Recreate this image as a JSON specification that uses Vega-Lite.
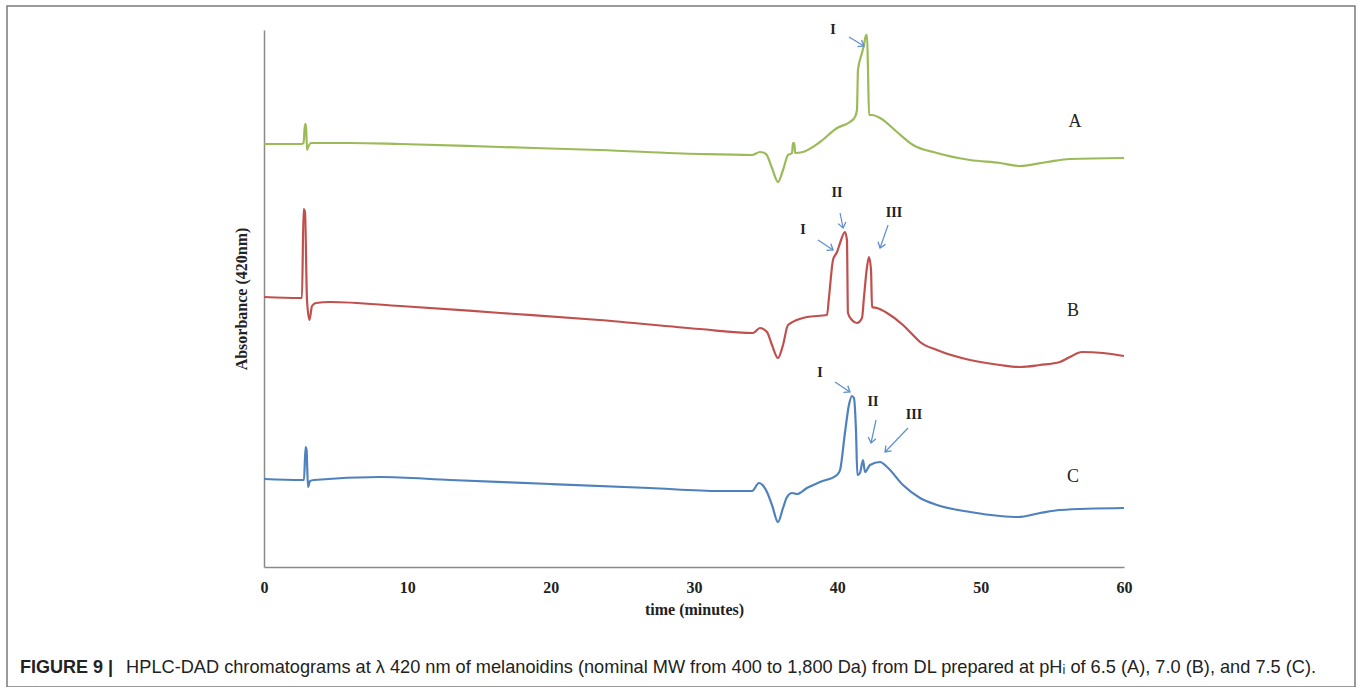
{
  "$schema": "https://vega.github.io/schema/vega-lite/v6.json",
  "width": 1348,
  "height": 681,
  "autosize": {"type": "none"},
  "padding": {"left": 7, "top": 6, "right": 3, "bottom": 0},
  "background": "white",
  "config": {
    "view": {"stroke": "#7a7a7a", "strokeWidth": 1.5},
    "axisX": {"ticks": false, "grid": false,
      "domainColor": "#8a8a8a", "domainWidth": 1.5, "labelFont": "Liberation Serif", "labelFontSize": 16, "labelFontWeight": "bold",
      "labelColor": "#222222", "labelPadding": 12, "labelFlush": false, "labelOverlap": false,
      "titleFont": "Liberation Serif", "titleFontSize": 16, "titleFontWeight": "bold", "titleColor": "#222222", "titlePadding": 6, "offset": -120},
    "axisY": {"labels": false, "ticks": false, "grid": false,
      "domainColor": "#8a8a8a", "domainWidth": 1.5,
      "titleFont": "Liberation Serif", "titleFontSize": 16, "titleFontWeight": "bold", "titleColor": "#222222", "titlePadding": 15, "offset": -257}
  },
  "title": {
    "text": "FIGURE 9 |",
    "subtitle": "\u200b\u00a0\u00a0\u00a0\u00a0\u00a0\u00a0\u00a0\u00a0\u00a0\u00a0\u00a0\u00a0\u00a0\u00a0\u00a0\u00a0\u00a0\u00a0\u00a0\u00a0\u00a0HPLC-DAD chromatograms at λ 420 nm of melanoidins (nominal MW from 400 to 1,800 Da) from DL prepared at pHᵢ of 6.5 (A), 7.0 (B), and 7.5 (C).",
    "orient": "bottom",
    "anchor": "start",
    "frame": "group",
    "offset": -28,
    "dx": 13,
    "font": "Liberation Sans",
    "fontSize": 18,
    "fontWeight": "bold",
    "color": "#222222",
    "lineHeight": 18,
    "subtitleFont": "Liberation Sans",
    "subtitleFontSize": 18.2,
    "subtitleFontWeight": "normal",
    "subtitleColor": "#222222",
    "subtitlePadding": -18
  },
  "datasets": {
    "trace": [
      {"series": "A", "time": 0, "abs": 423}, {"series": "A", "time": 2.6, "abs": 423}, {"series": "A", "time": 2.76, "abs": 424}, {"series": "A", "time": 2.86, "abs": 443}, {"series": "A", "time": 2.93, "abs": 443}, {"series": "A", "time": 3.0, "abs": 417}, {"series": "A", "time": 3.11, "abs": 421}, {"series": "A", "time": 3.28, "abs": 424}, {"series": "A", "time": 6, "abs": 424}, {"series": "A", "time": 9.5, "abs": 423}, {"series": "A", "time": 16.5, "abs": 420}, {"series": "A", "time": 23.4, "abs": 417}, {"series": "A", "time": 30.4, "abs": 413}, {"series": "A", "time": 34.05, "abs": 412}, {"series": "A", "time": 34.6, "abs": 415}, {"series": "A", "time": 35.02, "abs": 413}, {"series": "A", "time": 35.44, "abs": 399}, {"series": "A", "time": 35.86, "abs": 385}, {"series": "A", "time": 36.21, "abs": 397}, {"series": "A", "time": 36.56, "abs": 412}, {"series": "A", "time": 36.84, "abs": 414}, {"series": "A", "time": 36.9, "abs": 424}, {"series": "A", "time": 37.0, "abs": 424}, {"series": "A", "time": 37.05, "abs": 414}, {"series": "A", "time": 37.6, "abs": 415}, {"series": "A", "time": 38.79, "abs": 425}, {"series": "A", "time": 39.98, "abs": 439}, {"series": "A", "time": 40.88, "abs": 445}, {"series": "A", "time": 41.23, "abs": 450}, {"series": "A", "time": 41.37, "abs": 457}, {"series": "A", "time": 41.44, "abs": 497}, {"series": "A", "time": 41.72, "abs": 514}, {"series": "A", "time": 41.86, "abs": 522}, {"series": "A", "time": 42.0, "abs": 532}, {"series": "A", "time": 42.07, "abs": 532}, {"series": "A", "time": 42.14, "abs": 497}, {"series": "A", "time": 42.21, "abs": 452}, {"series": "A", "time": 42.42, "abs": 452}, {"series": "A", "time": 42.98, "abs": 449}, {"series": "A", "time": 44.16, "abs": 435}, {"series": "A", "time": 45.28, "abs": 422}, {"series": "A", "time": 46.95, "abs": 414}, {"series": "A", "time": 49.26, "abs": 407}, {"series": "A", "time": 51.35, "abs": 404}, {"series": "A", "time": 52.74, "abs": 401}, {"series": "A", "time": 54.63, "abs": 405}, {"series": "A", "time": 56.23, "abs": 408}, {"series": "A", "time": 60, "abs": 409},
      {"series": "B", "time": 0, "abs": 270}, {"series": "B", "time": 2.5, "abs": 269}, {"series": "B", "time": 2.65, "abs": 269}, {"series": "B", "time": 2.76, "abs": 358}, {"series": "B", "time": 2.86, "abs": 355}, {"series": "B", "time": 3.0, "abs": 267}, {"series": "B", "time": 3.17, "abs": 247}, {"series": "B", "time": 3.35, "abs": 261}, {"series": "B", "time": 3.63, "abs": 264}, {"series": "B", "time": 4.6, "abs": 265}, {"series": "B", "time": 9.5, "abs": 261}, {"series": "B", "time": 16.5, "abs": 254}, {"series": "B", "time": 23.4, "abs": 247}, {"series": "B", "time": 30.4, "abs": 238}, {"series": "B", "time": 34.12, "abs": 234}, {"series": "B", "time": 34.6, "abs": 239}, {"series": "B", "time": 35.09, "abs": 235}, {"series": "B", "time": 35.44, "abs": 222}, {"series": "B", "time": 35.86, "abs": 209}, {"series": "B", "time": 36.21, "abs": 222}, {"series": "B", "time": 36.56, "abs": 242}, {"series": "B", "time": 37.88, "abs": 250}, {"series": "B", "time": 39.28, "abs": 252}, {"series": "B", "time": 39.42, "abs": 270}, {"series": "B", "time": 39.7, "abs": 307}, {"series": "B", "time": 39.98, "abs": 315}, {"series": "B", "time": 40.19, "abs": 324}, {"series": "B", "time": 40.53, "abs": 335}, {"series": "B", "time": 40.67, "abs": 327}, {"series": "B", "time": 40.74, "abs": 254}, {"series": "B", "time": 41.02, "abs": 247}, {"series": "B", "time": 41.37, "abs": 244}, {"series": "B", "time": 41.72, "abs": 249}, {"series": "B", "time": 41.86, "abs": 270}, {"series": "B", "time": 42.07, "abs": 300}, {"series": "B", "time": 42.21, "abs": 310}, {"series": "B", "time": 42.35, "abs": 297}, {"series": "B", "time": 42.42, "abs": 260}, {"series": "B", "time": 42.77, "abs": 259}, {"series": "B", "time": 43.47, "abs": 254}, {"series": "B", "time": 44.58, "abs": 242}, {"series": "B", "time": 45.21, "abs": 233}, {"series": "B", "time": 45.77, "abs": 225}, {"series": "B", "time": 46.95, "abs": 217}, {"series": "B", "time": 49.26, "abs": 207}, {"series": "B", "time": 51.35, "abs": 202}, {"series": "B", "time": 52.74, "abs": 200}, {"series": "B", "time": 54.14, "abs": 202}, {"series": "B", "time": 55.53, "abs": 205}, {"series": "B", "time": 56.23, "abs": 210}, {"series": "B", "time": 57.07, "abs": 215}, {"series": "B", "time": 58.54, "abs": 214}, {"series": "B", "time": 60, "abs": 211},
      {"series": "C", "time": 0, "abs": 88}, {"series": "C", "time": 2.6, "abs": 87}, {"series": "C", "time": 2.79, "abs": 87}, {"series": "C", "time": 2.9, "abs": 120}, {"series": "C", "time": 2.97, "abs": 117}, {"series": "C", "time": 3.07, "abs": 80}, {"series": "C", "time": 3.21, "abs": 86}, {"series": "C", "time": 3.49, "abs": 87}, {"series": "C", "time": 8.1, "abs": 90}, {"series": "C", "time": 13, "abs": 87}, {"series": "C", "time": 20, "abs": 83}, {"series": "C", "time": 26.9, "abs": 79}, {"series": "C", "time": 31.8, "abs": 76}, {"series": "C", "time": 34.05, "abs": 76}, {"series": "C", "time": 34.53, "abs": 84}, {"series": "C", "time": 35.09, "abs": 75}, {"series": "C", "time": 35.44, "abs": 62}, {"series": "C", "time": 35.86, "abs": 45}, {"series": "C", "time": 36.21, "abs": 59}, {"series": "C", "time": 36.49, "abs": 70}, {"series": "C", "time": 36.84, "abs": 74}, {"series": "C", "time": 37.19, "abs": 73}, {"series": "C", "time": 37.88, "abs": 79}, {"series": "C", "time": 38.79, "abs": 85}, {"series": "C", "time": 39.98, "abs": 92}, {"series": "C", "time": 40.19, "abs": 97}, {"series": "C", "time": 40.53, "abs": 134}, {"series": "C", "time": 40.81, "abs": 162}, {"series": "C", "time": 41.02, "abs": 171}, {"series": "C", "time": 41.16, "abs": 169}, {"series": "C", "time": 41.3, "abs": 137}, {"series": "C", "time": 41.4, "abs": 92}, {"series": "C", "time": 41.58, "abs": 94}, {"series": "C", "time": 41.79, "abs": 107}, {"series": "C", "time": 41.93, "abs": 95}, {"series": "C", "time": 42.28, "abs": 102}, {"series": "C", "time": 42.98, "abs": 105}, {"series": "C", "time": 43.47, "abs": 100}, {"series": "C", "time": 44.58, "abs": 82}, {"series": "C", "time": 45.77, "abs": 69}, {"series": "C", "time": 46.95, "abs": 62}, {"series": "C", "time": 49.26, "abs": 55}, {"series": "C", "time": 51.35, "abs": 51}, {"series": "C", "time": 52.61, "abs": 50}, {"series": "C", "time": 54.14, "abs": 54}, {"series": "C", "time": 55.53, "abs": 57}, {"series": "C", "time": 60, "abs": 59}
    ],
    "arrows": [
      {"time": 40.81, "abs": 530, "time2": 41.86, "abs2": 521, "angle": 31},
      {"time": 40.19, "abs": 354, "time2": 40.4, "abs2": 339, "angle": 78.7},
      {"time": 38.65, "abs": 327, "time2": 39.7, "abs2": 317, "angle": 33.7},
      {"time": 43.54, "abs": 342, "time2": 42.98, "abs2": 319, "angle": 109.2},
      {"time": 39.84, "abs": 185, "time2": 40.88, "abs2": 175, "angle": 33.7},
      {"time": 42.7, "abs": 147, "time2": 42.35, "abs2": 124, "angle": 102.3},
      {"time": 44.93, "abs": 139, "time2": 43.33, "abs2": 115, "angle": 133.8}
    ],
    "numerals": [
      {"time": 39.7, "abs": 537, "label": "I"},
      {"time": 39.98, "abs": 374, "label": "II"},
      {"time": 37.61, "abs": 337, "label": "I"},
      {"time": 43.95, "abs": 354, "label": "III"},
      {"time": 38.79, "abs": 194, "label": "I"},
      {"time": 42.49, "abs": 165, "label": "II"},
      {"time": 45.35, "abs": 152, "label": "III"}
    ],
    "letters": [
      {"time": 56.58, "abs": 445, "label": "A"},
      {"time": 56.44, "abs": 256, "label": "B"},
      {"time": 56.44, "abs": 90, "label": "C"}
    ]
  },
  "layer": [
    {
      "data": {"name": "trace"},
      "mark": {"type": "line", "strokeWidth": 2.2, "interpolate": "monotone", "clip": false},
      "encoding": {
        "x": {"field": "time", "type": "quantitative", "title": "time (minutes)",
          "scale": {"domain": [0, 60], "range": [257, 1117], "nice": false, "zero": false},
          "axis": {"values": [0, 10, 20, 30, 40, 50, 60]}},
        "y": {"field": "abs", "type": "quantitative", "title": "Absorbance (420nm)",
          "scale": {"domain": [0, 537], "range": [561, 24], "nice": false, "zero": false}},
        "color": {"field": "series", "type": "nominal",
          "scale": {"domain": ["A", "B", "C"], "range": ["#9BBB59", "#C0504D", "#4F81BD"]}, "legend": null}
      }
    },
    {
      "data": {"name": "arrows"},
      "mark": {"type": "rule", "color": "#5B8FD0", "strokeWidth": 1.2},
      "encoding": {
        "x": {"field": "time", "type": "quantitative", "title": "time (minutes)", "scale": {"domain": [0, 60], "range": [257, 1117], "nice": false, "zero": false}, "axis": {"values": [0, 10, 20, 30, 40, 50, 60]}},
        "y": {"field": "abs", "type": "quantitative", "title": "Absorbance (420nm)", "scale": {"domain": [0, 537], "range": [561, 24], "nice": false, "zero": false}},
        "x2": {"field": "time2"},
        "y2": {"field": "abs2"}
      }
    },
    {
      "data": {"name": "arrows"},
      "mark": {"type": "point", "shape": "M-1,-0.75L0,0L-1,0.75", "filled": false, "stroke": "#5B8FD0", "strokeWidth": 1.3, "size": 110, "opacity": 1},
      "encoding": {
        "x": {"field": "time2", "type": "quantitative", "title": "time (minutes)", "scale": {"domain": [0, 60], "range": [257, 1117], "nice": false, "zero": false}, "axis": {"values": [0, 10, 20, 30, 40, 50, 60]}},
        "y": {"field": "abs2", "type": "quantitative", "title": "Absorbance (420nm)", "scale": {"domain": [0, 537], "range": [561, 24], "nice": false, "zero": false}},
        "angle": {"field": "angle", "type": "quantitative", "scale": null}
      }
    },
    {
      "data": {"name": "numerals"},
      "mark": {"type": "text", "font": "Liberation Serif", "fontSize": 14, "fontWeight": "bold", "color": "#222222", "align": "center", "baseline": "middle"},
      "encoding": {
        "x": {"field": "time", "type": "quantitative", "title": "time (minutes)", "scale": {"domain": [0, 60], "range": [257, 1117], "nice": false, "zero": false}, "axis": {"values": [0, 10, 20, 30, 40, 50, 60]}},
        "y": {"field": "abs", "type": "quantitative", "title": "Absorbance (420nm)", "scale": {"domain": [0, 537], "range": [561, 24], "nice": false, "zero": false}},
        "text": {"field": "label"}
      }
    },
    {
      "data": {"name": "letters"},
      "mark": {"type": "text", "font": "Liberation Serif", "fontSize": 18, "fontWeight": "normal", "color": "#222222", "align": "center", "baseline": "middle"},
      "encoding": {
        "x": {"field": "time", "type": "quantitative", "title": "time (minutes)", "scale": {"domain": [0, 60], "range": [257, 1117], "nice": false, "zero": false}, "axis": {"values": [0, 10, 20, 30, 40, 50, 60]}},
        "y": {"field": "abs", "type": "quantitative", "title": "Absorbance (420nm)", "scale": {"domain": [0, 537], "range": [561, 24], "nice": false, "zero": false}},
        "text": {"field": "label"}
      }
    }
  ]
}
